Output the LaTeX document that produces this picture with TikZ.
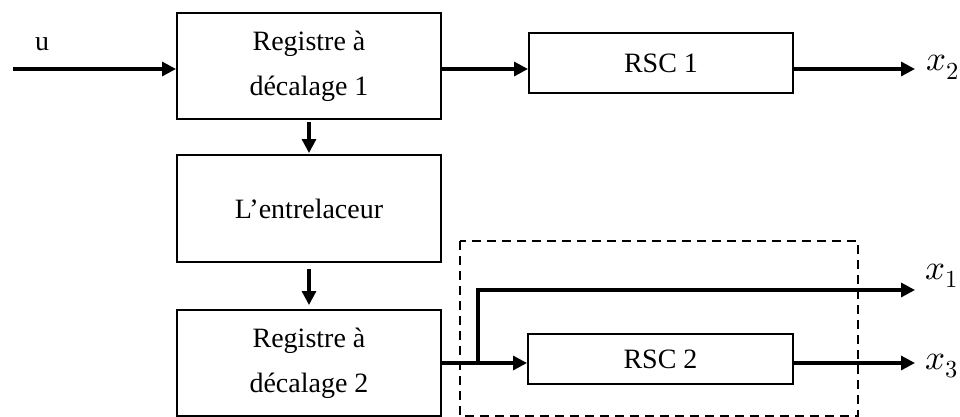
\documentclass[tikz,border=0pt]{standalone}
\usepackage{unicode-math}
\setmainfont{Liberation Serif}
\setmathfont{Latin Modern Math}
\usetikzlibrary{arrows.meta}
\begin{document}
\begin{tikzpicture}[x=1pt,y=-1pt,
  blk/.style={draw,line width=2pt,minimum width=264pt,inner sep=0pt,align=center,
    font=\fontsize{28}{45}\selectfont},
  arr/.style={line width=3.2pt,-{Triangle[length=14pt,width=14pt]}},
  lbl/.style={font=\fontsize{28}{34}\selectfont,inner sep=0pt},
  mlbl/.style={font=\fontsize{35}{40}\selectfont,inner sep=0pt,anchor=base west}]
\useasboundingbox (0,0) rectangle (960,417);
\node[blk,minimum height=106pt] (reg1) at (309,66) {Registre à\\décalage 1};
\node[blk,minimum height=60pt] (rsc1) at (661,63) {RSC 1};
\node[blk,minimum height=107pt] (ent) at (309,208.5) {L’entrelaceur};
\node[blk,minimum height=106pt] (reg2) at (309,363) {Registre à\\décalage 2};
\node[blk,minimum height=50pt,minimum width=265pt] (rsc2) at (660.5,359) {RSC 2};
\draw[line width=2pt,dash pattern=on 9pt off 6pt] (460,241) rectangle (858,416);
\coordinate (in) at (13,69);
\coordinate (o2) at (915,69);
\coordinate (br) at (478,363);
\coordinate (up) at (478,290);
\coordinate (o1) at (915,290);
\coordinate (o3) at (915,363);
\node[lbl] (u) at (42,44) {u};
\node[mlbl] (x2) at (926,71) {$x_2$};
\node[mlbl] (x1) at (925,279) {$x_1$};
\node[mlbl] (x3) at (925,369) {$x_3$};
\draw[arr] (in) -- (in -| reg1.west);
\draw[arr] (reg1.east |- in) -- (rsc1.west |- in);
\draw[arr] (rsc1.east |- in) -- (o2);
\draw[arr] ([yshift=-2pt]reg1.south) -- ([yshift=1pt]ent.north);
\draw[arr] ([yshift=-6pt]ent.south) -- ([yshift=4pt]reg2.north);
\draw[arr] (reg2.east |- br) -- (rsc2.west |- br);
\draw[arr] (rsc2.east |- br) -- (o3);
\draw[arr] (br) -- (up) -- (o1);
\end{tikzpicture}
\end{document}
